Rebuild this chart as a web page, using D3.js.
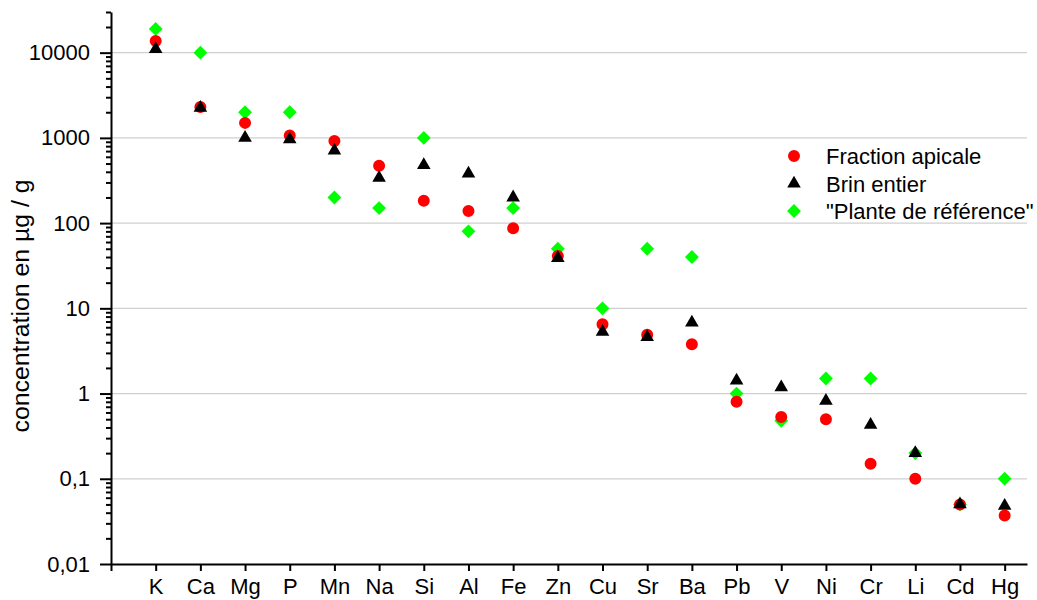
<!DOCTYPE html>
<html>
<head>
<meta charset="utf-8">
<script src="https://cdn.jsdelivr.net/npm/d3@7"></script>
<style>
    body { margin: 0; background: #fff; }
    text { font-family: "Liberation Sans", Arial, sans-serif; fill: #000; }
</style>
</head>
<body>
<svg id="chart" width="1037" height="600"></svg>
<script>
// 1: DATA (ug/g)
const elements = ["K", "Ca", "Mg", "P", "Mn", "Na", "Si", "Al", "Fe", "Zn", "Cu", "Sr", "Ba", "Pb", "V", "Ni", "Cr", "Li", "Cd", "Hg"];
const fractionApicale = [13700, 2300, 1500, 1070, 920, 470, 183, 139, 87, 41, 6.5, 4.9, 3.8, 0.8, 0.53, 0.5, 0.15, 0.1, 0.05, 0.037];
const brinEntier = [11000, 2250, 1000, 960, 710, 340, 480, 380, 200, 39, 5.3, 4.6, 6.8, 1.42, 1.18, 0.82, 0.43, 0.2, 0.05, 0.048];
const planteReference = [19000, 10000, 2000, 2000, 200, 150, 1000, 80, 150, 50, 10, 50, 40, 1, 0.48, 1.5, 1.5, 0.2, 0.05, 0.1];
const majorTicks = [0.01, 0.1, 1, 10, 100, 1000, 10000];
const majorLabels = ["0,01", "0,1", "1", "10", "100", "1000", "10000"];
const seriesNames = ["Fraction apicale", "Brin entier", "\"Plante de référence\""];

// 2: GLOBAL VARIABLES
const margin = { top: 12, right: 10, bottom: 36, left: 111 };
const width = 1037 - margin.left - margin.right;
const height = 600 - margin.top - margin.bottom;

const svg = d3.select("#chart")
    .append("g")
    .attr("transform", `translate(${margin.left},${margin.top})`);

// 3: SCALES
const xScale = d3.scaleLinear()
    .domain([-1, elements.length - 0.5])
    .range([0, width]);

const yScale = d3.scaleLog()
    .domain([0.01, 30000])
    .range([height, 0]);

// minor ticks 2..9 per decade, up to 30000
const minorTicks = [];
for (let e = -2; e <= 4; e++) {
    for (let m = 2; m <= 9; m++) {
        const v = m * Math.pow(10, e);
        if (v <= 30000) minorTicks.push(v);
    }
}

// 4: GRIDLINES
svg.append("g")
    .selectAll("line")
    .data(majorTicks.slice(1))
    .enter()
    .append("line")
    .attr("x1", 0)
    .attr("x2", width)
    .attr("y1", d => yScale(d))
    .attr("y2", d => yScale(d))
    .attr("stroke", "#d0d0d0")
    .attr("stroke-width", 1.2);

// 5: AXES
const yAxis = svg.append("g")
    .call(d3.axisLeft(yScale)
        .tickValues(majorTicks)
        .tickFormat((d, i) => majorLabels[i])
        .tickSize(11)
        .tickPadding(10)
        .tickSizeOuter(0));

const yMinor = svg.append("g")
    .call(d3.axisLeft(yScale)
        .tickValues(minorTicks)
        .tickFormat("")
        .tickSize(5)
        .tickSizeOuter(0));
yMinor.select(".domain").remove();

const xAxis = svg.append("g")
    .attr("transform", `translate(0, ${height})`)
    .call(d3.axisBottom(xScale)
        .tickValues(d3.range(-1, elements.length))
        .tickFormat(d => d < 0 ? "" : elements[d])
        .tickSize(7)
        .tickPadding(7)
        .tickSizeOuter(0));

[yAxis, yMinor, xAxis].forEach(g => {
    g.selectAll(".domain").attr("stroke", "#000").attr("stroke-width", 2);
    g.selectAll(".tick line").attr("stroke", "#000").attr("stroke-width", 2);
    g.selectAll(".tick text").style("font-size", "22px").attr("fill", "#000");
});

// 6: PLOT DATA (green first, black on top)
const symCircle = d3.symbol().type(d3.symbolCircle).size(113);
const symTriangle = d3.symbol().type(d3.symbolTriangle).size(80);
const symDiamond = d3.symbol().type(d3.symbolSquare).size(96);

const series = [
    { values: planteReference, sym: symDiamond, color: "#00ff00", rot: 45 },
    { values: fractionApicale, sym: symCircle, color: "#ff0000", rot: 0 },
    { values: brinEntier, sym: symTriangle, color: "#000000", rot: 0 }
];

series.forEach(s => {
    svg.append("g")
        .selectAll("path")
        .data(s.values)
        .enter()
        .append("path")
        .attr("d", s.sym())
        .attr("fill", s.color)
        .attr("transform", (d, i) => `translate(${xScale(i)},${yScale(d)}) rotate(${s.rot})`);
});

// 7: LABELS
svg.append("text")
    .attr("transform", "rotate(-90)")
    .attr("x", -(306 - margin.top))
    .attr("y", 29 - margin.left)
    .attr("text-anchor", "middle")
    .attr("textLength", 253)
    .attr("lengthAdjust", "spacingAndGlyphs")
    .style("font-size", "23px")
    .text("concentration en µg / g");

// Legend
const legendSeries = [series[1], series[2], series[0]];
const legend = svg.selectAll(".legend")
    .data(seriesNames)
    .enter()
    .append("g")
    .attr("class", "legend")
    .attr("transform", (d, i) => `translate(${794 - margin.left}, ${156 - margin.top + i * 27.5})`);

legend.append("path")
    .attr("d", (d, i) => legendSeries[i].sym())
    .attr("fill", (d, i) => legendSeries[i].color)
    .attr("transform", (d, i) => `rotate(${legendSeries[i].rot})`);

legend.append("text")
    .attr("x", 32)
    .attr("y", 8)
    .style("font-size", "22px")
    .text(d => d);
</script>
</body>
</html>
